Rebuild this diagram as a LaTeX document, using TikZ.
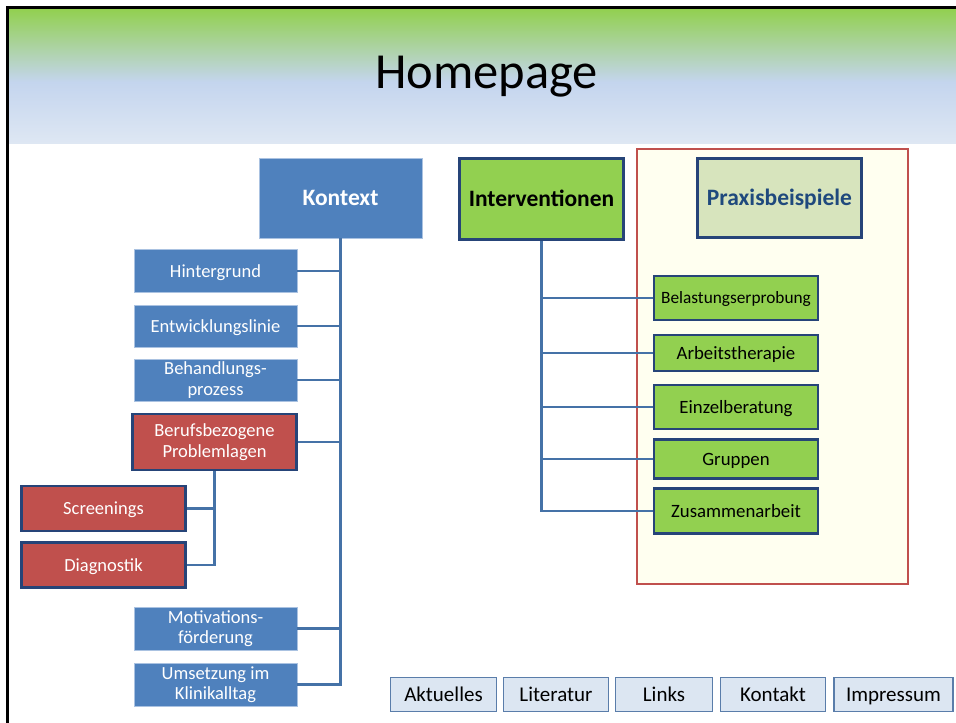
\documentclass[tikz,border=0pt]{standalone}
\usepackage{fontspec}
\setmainfont{Carlito}
\usepackage{tikz}

\definecolor{ctxblue}{RGB}{79,129,189}
\definecolor{edgeblue}{RGB}{170,194,225}
\definecolor{darkblue}{RGB}{38,68,120}
\definecolor{treeblue}{RGB}{69,114,167}
\definecolor{probred}{RGB}{192,80,77}
\definecolor{intgreen}{RGB}{146,208,80}
\definecolor{praxgreen}{RGB}{215,228,189}
\definecolor{praxtext}{RGB}{31,73,125}
\definecolor{navfill}{RGB}{220,230,242}
\definecolor{navedge}{RGB}{90,125,170}
\definecolor{bannerblue}{RGB}{196,213,238}
\definecolor{bannerlight}{RGB}{222,231,243}
\definecolor{paleyellow}{RGB}{255,255,240}

\tikzset{
  tree/.style={treeblue, line width=2.5pt},
  oneline/.style={text height=#1, text depth=0pt},
  ctxbox/.style={fill=ctxblue, draw=edgeblue, line width=0.8pt, text=white,
    inner sep=0pt, align=center, minimum width=163},
  probbox/.style={fill=probred, draw=darkblue, line width=2.5pt, text=white,
    inner sep=0pt, align=center, minimum width=164},
  intbox/.style={fill=intgreen, draw=darkblue, line width=2.5pt,
    inner sep=0pt, align=center, minimum width=164},
  navbox/.style={fill=navfill, draw=navedge, line width=1.2pt, oneline=13.5pt,
    inner sep=0pt, minimum height=34, font=\fontsize{21}{24}\selectfont}
}

\begin{document}
\begin{tikzpicture}[x=1pt,y=-1pt]
\useasboundingbox (0,0) rectangle (956,723);
\fill [white] (0,0) rectangle (956,723);
% title banner
\shade [top color=intgreen, bottom color=bannerblue] (9,9) rectangle (956,82);
\shade [top color=bannerblue, bottom color=bannerlight] (9,82) rectangle (956,143);
\draw [line width=3pt] (7.5,723) -- (7.5,7.5) -- (956,7.5);
\node [anchor=base, font=\fontsize{50.5}{55}\selectfont] (title) at (486.5,88) {Homepage};

% Kontext
\node [ctxbox, minimum height=80, oneline=15pt, font=\bfseries\fontsize{23.5}{26}\selectfont] (kontext) at (340.5,198) {Kontext};
\tikzset{every node/.append style={font=\fontsize{18.5}{20.5}\selectfont}}
\node [ctxbox, minimum height=43, oneline=12pt] (hintergrund) at (215.5,271) {Hintergrund};
\node [ctxbox, minimum height=42, oneline=12pt] (entwicklung) at (215.5,326) {Entwicklungslinie};
\node [ctxbox, minimum height=42] (behandlung) at (215.5,380) {Behandlungs-\\prozess};
\node [probbox, minimum height=56] (probleme) at (214.5,442) {Berufsbezogene\\Problemlagen};
\node [probbox, minimum height=45, oneline=12pt] (screenings) at (103.5,508.5) {Screenings};
\node [probbox, minimum height=45, oneline=12pt] (diagnostik) at (103.5,565) {Diagnostik};
\node [ctxbox, minimum height=43] (motivation) at (215.5,628.5) {Motivations-\\förderung};
\node [ctxbox, minimum height=43] (umsetzung) at (215.5,684.5) {Umsetzung im\\Klinikalltag};

\draw [tree] (kontext.south) |- (umsetzung.east);
\foreach \n in {hintergrund,entwicklung,behandlung,probleme,motivation}
  \draw [tree] (\n.east) -- (\n.east -| kontext.south);
\draw [tree] (probleme.south) |- (diagnostik.east);
\draw [tree] (screenings.east) -- (screenings.east -| probleme.south);

% Praxisbeispiele
\draw [probred, line width=2.5pt, fill=paleyellow] (637,149) rectangle (908,584);
\node [intbox, fill=praxgreen, minimum height=79, text=praxtext, oneline=15pt,
  font=\bfseries\fontsize{23.5}{26}\selectfont] (praxis) at (779.5,198) {Praxisbeispiele};

% Interventionen
\node [intbox, minimum height=81, oneline=15pt, font=\bfseries\fontsize{23.5}{26}\selectfont] (interv) at (541.5,199) {Interventionen};
\tikzset{every node/.append style={font=\fontsize{18.8}{20}\selectfont, oneline=12pt}}
\node [intbox, minimum height=44, font=\fontsize{17.3}{19}\selectfont, oneline=11pt] (belastung) at (736,298) {Belastungserprobung};
\node [intbox, minimum height=36] (arbeit) at (736,353) {Arbeitstherapie};
\node [intbox, minimum height=44] (einzel) at (736,407) {Einzelberatung};
\node [intbox, minimum height=39] (gruppen) at (736,459) {Gruppen};
\node [intbox, minimum height=45] (zusammen) at (736,511) {Zusammenarbeit};

\draw [tree] (interv.south) |- (zusammen.west);
\foreach \n in {belastung,arbeit,einzel,gruppen}
  \draw [tree] (\n.west) -- (\n.west -| interv.south);

% navigation
\node [navbox, minimum width=106] (aktuelles) at (443.5,694.5) {Aktuelles};
\node [navbox, minimum width=105] (literatur) at (556,694.5) {Literatur};
\node [navbox, minimum width=97] (links) at (664,694.5) {Links};
\node [navbox, minimum width=105] (kontakt) at (773,694.5) {Kontakt};
\node [navbox, minimum width=119] (impressum) at (893.5,694.5) {Impressum};
\end{tikzpicture}
\end{document}
